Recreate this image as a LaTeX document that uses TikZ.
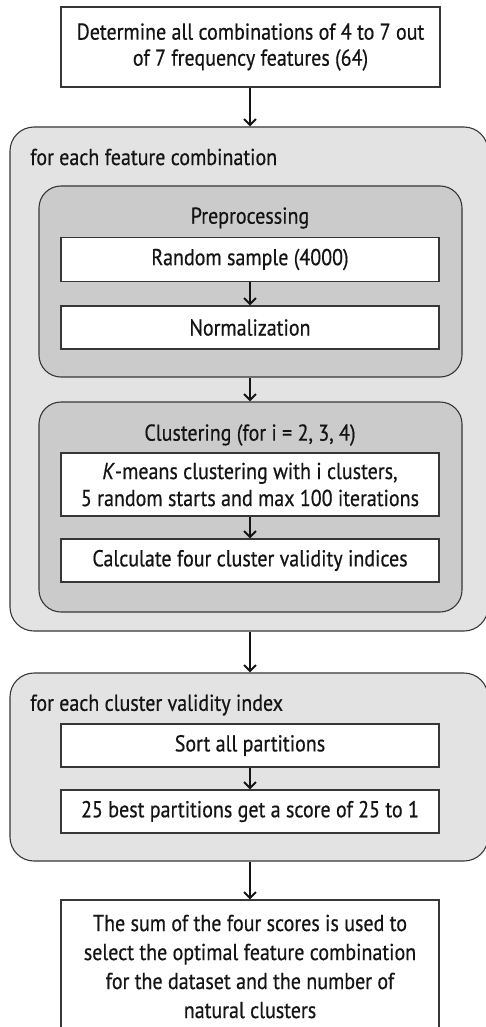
\documentclass[tikz,border=0pt]{standalone}
\usepackage{fontspec}
\setmainfont{PT Sans}[FakeStretch=0.87,FakeBold=0.5]
\usetikzlibrary{arrows.meta}
\definecolor{outerfill}{RGB}{227,227,227}
\definecolor{innerfill}{RGB}{203,203,203}
\definecolor{edge}{RGB}{55,55,55}
\definecolor{ink}{RGB}{20,20,20}
\newcommand\fs{\fontsize{23}{27}\selectfont}
\begin{document}
\begin{tikzpicture}[x=1pt,y=-1pt,
  box/.style={draw=edge, line width=1.1pt, fill=white, minimum width=378pt,
    inner sep=0pt, align=center, font=\fs, text=ink},
  cont/.style={draw=edge, line width=1.1pt, rounded corners=24pt, inner sep=0pt},
  lbl/.style={inner sep=0pt, font=\fs, text=ink},
  arr/.style={line width=2pt, draw=ink,
    -{Straight Barb[length=6pt,width=12pt,line width=2pt]}}]
\useasboundingbox (0,0) rectangle (486,1027);
\clip (0,0) rectangle (486,1027);
\fill[white] (0,0) rectangle (486,1027);
% containers
\node[cont, fill=outerfill, minimum width=478pt, minimum height=504pt] (outer1) at (249,379) {};
\node[cont, fill=innerfill, minimum width=423pt, minimum height=191pt, rounded corners=22pt] (pre) at (250.5,281.5) {};
\node[cont, fill=innerfill, minimum width=423pt, minimum height=210pt, rounded corners=22pt] (clus) at (250.5,507) {};
\node[cont, fill=outerfill, minimum width=478pt, minimum height=188pt] (outer2) at (249,767) {};
% labels
\node[lbl, anchor=west] (l1) at (30,157) {for each feature combination};
\node[lbl] (l2) at (250,218) {Preprocessing};
\node[lbl] (l3) at (250,435) {Clustering (for i = 2, 3, 4)};
\node[lbl, anchor=west] (l4) at (30,705) {for each cluster validity index};
% boxes
\node[box, minimum width=379pt, minimum height=80pt, font=\fontsize{23}{26}\selectfont] (top) at (250.5,47)
  {Determine all combinations of 4 to 7 out\\of 7 frequency features (64)};
\node[box, minimum height=44pt] (rs) at (250,259.5) {Random sample (4000)};
\node[box, minimum height=43pt] (norm) at (250,327.5) {Normalization};
\node[box, minimum height=63pt] (km) at (250,484.5)
  {\textit{K}-means clustering with i clusters,\\5 random starts and max 100 iterations};
\node[box, minimum height=43pt] (calc) at (250,560.5) {Calculate four cluster validity indices};
\node[box, minimum height=43pt] (sort) at (250,745.5) {Sort all partitions};
\node[box, minimum height=43pt] (best) at (250,811.5) {25 best partitions get a score of 25 to 1};
\node[box, minimum height=133pt, font=\fontsize{23}{29}\selectfont] (final) at (250,966.5)
  {The sum of the four scores is used to\\select the optimal feature combination\\for the dataset and the number of\\natural clusters};
% arrows
\draw[arr] (top.south -| rs.north) -- (rs.north |- outer1.north);
\draw[arr] (rs.south) -- (norm.north);
\draw[arr] (rs.north |- pre.south) -- (rs.north |- clus.north);
\draw[arr] (km.south) -- (calc.north);
\draw[arr] (rs.north |- outer1.south) -- (rs.north |- outer2.north);
\draw[arr] (sort.south) -- (best.north);
\draw[arr] (rs.north |- outer2.south) -- (final.north);
\end{tikzpicture}
\end{document}
